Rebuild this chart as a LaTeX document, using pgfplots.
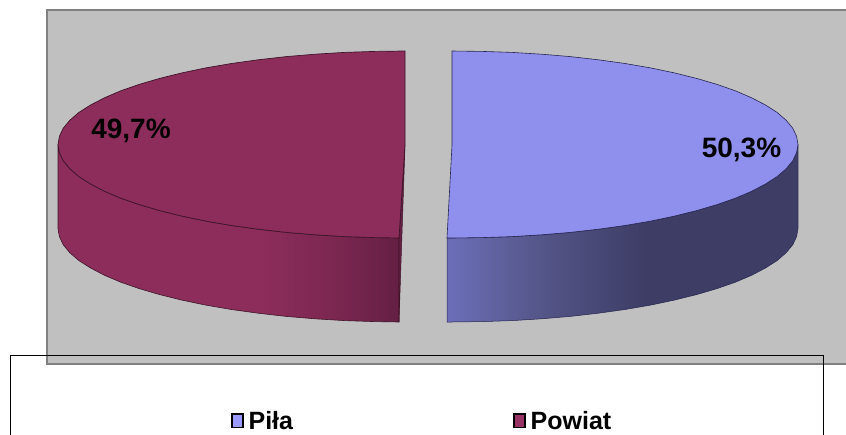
\documentclass[border=0pt]{standalone}
\usepackage{fontspec}
\setmainfont{Liberation Sans}
\usepackage{pgfplots}
\pgfplotsset{compat=1.18}

\definecolor{panel}{HTML}{C0C0C0}
\definecolor{panelline}{HTML}{808080}
\definecolor{pilatop}{HTML}{8F8FEE}
\definecolor{powiattop}{HTML}{8C2D5B}
\definecolor{pilaline}{HTML}{25254F}
\definecolor{powiatline}{HTML}{3F1429}
\definecolor{pilaleg}{HTML}{9999FF}
\definecolor{powiatleg}{HTML}{993366}
\definecolor{pilawall1}{HTML}{6C6FB8}
\definecolor{pilawall2}{HTML}{555689}
\definecolor{pilawall3}{HTML}{3D3D66}
\definecolor{powiatwall1}{HTML}{8C2D5B}
\definecolor{powiatwall2}{HTML}{7A2750}
\definecolor{powiatwall3}{HTML}{652044}

% 25bp..75bp of a pgf shading is what lands on the path
\pgfdeclarehorizontalshading{pilawall}{100bp}{
  color(0bp)=(pilawall1); color(25bp)=(pilawall1); color(38bp)=(pilawall2);
  color(53bp)=(pilawall3); color(75bp)=(pilawall3); color(100bp)=(pilawall3)}
\pgfdeclarehorizontalshading{powiatwall}{100bp}{
  color(0bp)=(powiatwall1); color(25bp)=(powiatwall1); color(55bp)=(powiatwall1);
  color(66bp)=(powiatwall2); color(75bp)=(powiatwall3); color(100bp)=(powiatwall3)}

\begin{document}
\begin{tikzpicture}
\begin{axis}[
    scale only axis,
    width=846pt, height=434pt,
    xmin=0, xmax=846, ymin=0, ymax=434,
    y dir=reverse,
    hide axis,
    clip=true,
    legend image code/.code={\draw[#1,line width=1.6pt] (1pt,-6.5pt) rectangle (12pt,7pt);},
    legend columns=2,
    legend cell align=left,
    legend style={
        draw=none, fill=none, inner sep=0pt, outer sep=0pt,
        at={(axis cs:231,433)}, anchor=south west,
        font=\fontsize{25}{25}\selectfont\bfseries,
        /tikz/every odd column/.append style={column sep=3pt},
        /tikz/every even column/.append style={column sep=218pt},
    },
]
% plot area
\addplot[fill=panel, draw=panelline, line width=2pt, forget plot] coordinates {
    (47,10)(850,10)(850,364)(47,364)} -- cycle;

% Powiat, wall
\addplot[shade, shading=powiatwall, draw=powiatline, line width=0.6pt, forget plot] coordinates {
    (58,144.5)(59.4,152.6)(63.2,160.7)(69.8,168.7)(78.8,176.5)(90.6,184)(104.5,191.3)(120.8,198.2)
    (139.2,204.6)(159.7,210.6)(181.9,216.1)(205.8,221.1)(231.5,225.5)(258.2,229.2)(286.3,232.4)
    (315.1,234.8)(344.6,236.6)(374.8,237.6)(399,238)
    (399,322)(374.8,321.6)(344.6,320.6)(315.1,318.8)(286.3,316.4)(258.2,313.2)(231.5,309.5)
    (205.8,305.1)(181.9,300.1)(159.7,294.6)(139.2,288.6)(120.8,282.2)(104.5,275.3)(90.6,268)
    (78.8,260.5)(69.8,252.7)(63.2,244.7)(59.4,236.6)(58,228.5)} -- cycle;
% Powiat, sliver of the cut face
\addplot[fill=powiatwall3, draw=powiatline, line width=0.5pt, forget plot] coordinates {
    (405,145)(399,238)(399,322)} -- cycle;
% Powiat, top
\addplot[fill=powiattop, draw=powiatline, line width=0.7pt, forget plot] coordinates {
    (405,51)(374.8,51.4)(344.6,52.4)(315.1,54.2)(286.3,56.6)(258.2,59.8)(231.5,63.5)(205.8,67.9)
    (181.9,72.9)(159.7,78.4)(139.2,84.4)(120.8,90.8)(104.5,97.8)(90.6,105)(78.8,112.5)(69.8,120.3)
    (63.2,128.3)(59.4,136.4)(58,144.5)
    (59.4,152.6)(63.2,160.7)(69.8,168.7)(78.8,176.5)(90.6,184)(104.5,191.3)(120.8,198.2)
    (139.2,204.6)(159.7,210.6)(181.9,216.1)(205.8,221.1)(231.5,225.5)(258.2,229.2)(286.3,232.4)
    (315.1,234.8)(344.6,236.6)(374.8,237.6)(399,238)(405,145)} -- cycle;

% Piła, wall
\addplot[shade, shading=pilawall, draw=pilaline, line width=0.5pt, forget plot] coordinates {
    (798,144.5)(796.6,152.6)(792.8,160.7)(786.2,168.7)(777.2,176.5)(765.5,184)(751.6,191.3)(735.4,198.2)
    (717,204.6)(696.6,210.6)(674.4,216.1)(650.6,221.1)(625,225.5)(598.4,229.2)(570.3,232.4)
    (541.6,234.8)(512.2,236.6)(482.1,237.6)(452,238)(447,238)
    (447,322)(452,322)(482.1,321.6)(512.2,320.6)(541.6,318.8)(570.3,316.4)(598.4,313.2)(625,309.5)
    (650.6,305.1)(674.4,300.1)(696.6,294.6)(717,288.6)(735.4,282.2)(751.6,275.3)(765.5,268)
    (777.2,260.5)(786.2,252.7)(792.8,244.7)(796.6,236.6)(798,228.5)} -- cycle;
% Piła, top
\addplot[fill=pilatop, draw=pilaline, line width=0.6pt, forget plot] coordinates {
    (452,51)(482.1,51.4)(512.2,52.4)(541.6,54.2)(570.3,56.6)(598.4,59.8)(625,63.5)(650.6,67.9)
    (674.4,72.9)(696.6,78.4)(717,84.4)(735.4,90.8)(751.6,97.8)(765.5,105)(777.2,112.5)(786.2,120.3)
    (792.8,128.3)(796.6,136.4)(798,144.5)
    (796.6,152.6)(792.8,160.7)(786.2,168.7)(777.2,176.5)(765.5,184)(751.6,191.3)(735.4,198.2)
    (717,204.6)(696.6,210.6)(674.4,216.1)(650.6,221.1)(625,225.5)(598.4,229.2)(570.3,232.4)
    (541.6,234.8)(512.2,236.6)(482.1,237.6)(452,238)(447,238)(452,145)} -- cycle;

% legend frame, its lower edge is cut off by the page
\addplot[draw=black, line width=1pt, forget plot] coordinates {
    (10,440)(10,355)(823,355)(823,440)};

\addlegendimage{draw=black, fill=pilaleg}
\addlegendentry{Piła}
\addlegendimage{draw=black, fill=powiatleg}
\addlegendentry{Powiat}

\node[font=\fontsize{28}{28}\selectfont\bfseries] at (axis cs:131,131) {49,7\%};
\node[font=\fontsize{28}{28}\selectfont\bfseries] at (axis cs:741.5,150) {50,3\%};
\end{axis}
% the frame and panel run past the page: fix the page to the axis box
\pgfresetboundingbox
\path[use as bounding box] (0,0) rectangle (846pt,434pt);
\end{tikzpicture}
\end{document}
